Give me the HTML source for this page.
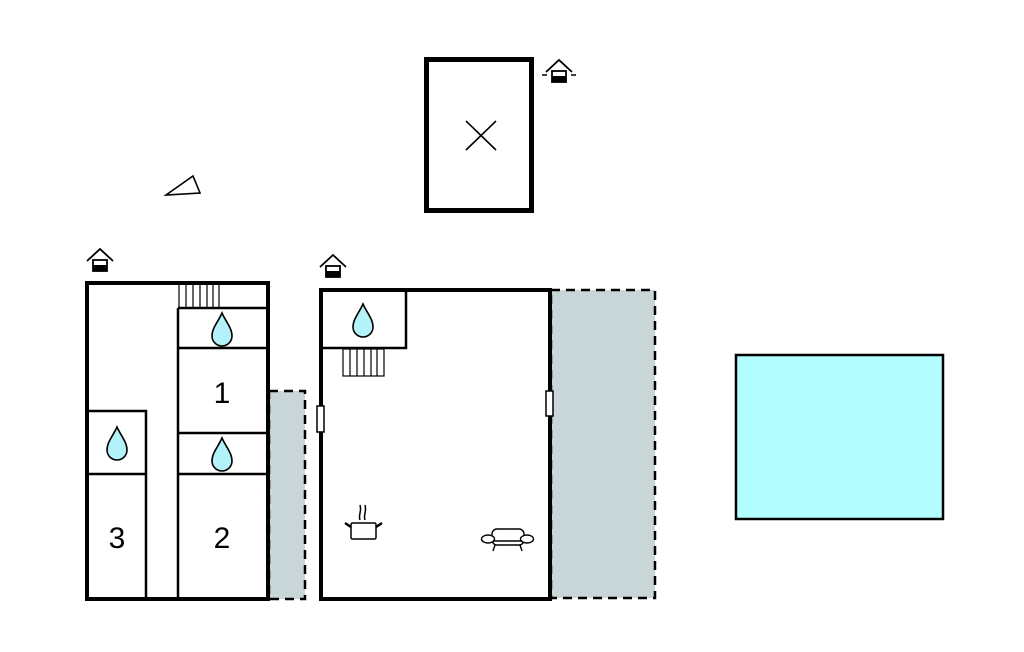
<!DOCTYPE html>
<html><head><meta charset="utf-8"><style>
html,body{margin:0;padding:0;background:#fff;width:1024px;height:652px;overflow:hidden}
svg{display:block}
</style></head><body>
<svg width="1024" height="652" viewBox="0 0 1024 652" xmlns="http://www.w3.org/2000/svg">
<defs>
<g id="drop"><path d="M0,-17 C4,-8 10,-2 10,6 A10,10 0 0 1 -10,6 C-10,-2 -4,-8 0,-17 Z" fill="#b3f2f8" stroke="#000" stroke-width="1.6"/></g>
<g id="house" fill="none" stroke="#000" stroke-width="1.8">
<path d="M-13,2 L0,-10 L13,2"/><rect x="-7" y="1" width="14" height="11" fill="#fff"/><rect x="-7" y="6" width="14" height="6" fill="#000" stroke="none"/>
</g>
</defs>

<rect x="426.5" y="59.5" width="105" height="151" fill="#fff" stroke="#000" stroke-width="5"/>
<path d="M466,121 L496,150 M496,121 L466,150" stroke="#000" stroke-width="1.6"/>
<g transform="translate(559,70)"><use href="#house"/><path d="M-17,5 h5 M12,5 h5" stroke="#000" stroke-width="1.6"/></g>

<path d="M166,195 L193,176 L200,193 Z" fill="none" stroke="#000" stroke-width="1.6"/>

<rect x="269" y="391" width="36" height="208" fill="#c9d6d8" stroke="#000" stroke-width="2.5" stroke-dasharray="9,6"/>
<g transform="translate(100,259)"><use href="#house"/></g>
<rect x="87" y="283" width="181" height="316" fill="#fff" stroke="#000" stroke-width="4"/>
<g stroke="#000" stroke-width="2.5" fill="none">
<path d="M178,308 V599"/>
<path d="M178,308 H267 M178,348 H267 M178,433 H267 M178,474 H267"/>
<path d="M88,411 H146 V599 M88,474 H146"/>
</g>
<g stroke="#000" stroke-width="1.2" fill="none">
<path d="M179,285 V308 M219,285 V308 M186,285 V308 M193,285 V308 M200,285 V308 M207,285 V308 M213,285 V308"/>
</g>
<use href="#drop" x="222" y="330"/>
<use href="#drop" x="117" y="444"/>
<use href="#drop" x="222" y="455"/>
<g font-family="Liberation Sans, sans-serif" font-size="30" text-anchor="middle" fill="#000">
<text x="222" y="403">1</text><text x="222" y="548">2</text><text x="117" y="548">3</text>
</g>

<rect x="551" y="290" width="104" height="308" fill="#c9d6d8" stroke="#000" stroke-width="2.5" stroke-dasharray="9,6"/>
<g transform="translate(333,265)"><use href="#house"/></g>
<rect x="321" y="290" width="229" height="309" fill="#fff" stroke="#000" stroke-width="4"/>
<path d="M321,348 H406 V290" stroke="#000" stroke-width="2.5" fill="none"/>
<use href="#drop" x="363" y="321"/>
<rect x="343" y="349" width="41" height="27" fill="#fff" stroke="#000" stroke-width="1.2"/>
<path d="M350,349 V376 M357,349 V376 M364,349 V376 M371,349 V376 M377,349 V376" stroke="#000" stroke-width="1.2"/>
<rect x="317" y="406" width="7" height="26" fill="#fff" stroke="#000" stroke-width="1.5"/>
<rect x="546" y="391" width="7" height="25" fill="#fff" stroke="#000" stroke-width="1.5"/>

<g stroke="#000" stroke-width="1.5" fill="none">
<rect x="351" y="523" width="25" height="16" rx="1.5" fill="#fff"/>
<path d="M351,527 L345,523 M376,527 L382,523" stroke-width="2.5"/>
<path d="M360,520 C358,515 362,512 360,505 M365,520 C363,515 367,512 365,505"/>
</g>
<g stroke="#000" stroke-width="1.4" fill="#fff">
<rect x="492" y="529" width="32" height="16" rx="5"/>
<path d="M492,541 H524"/>
<ellipse cx="488" cy="539" rx="6.5" ry="4"/>
<ellipse cx="527" cy="539" rx="6.5" ry="4"/>
<path d="M495,545 L493,551 M520,545 L522,551" fill="none"/>
</g>

<rect x="736" y="355" width="207" height="164" fill="#b3ffff" stroke="#000" stroke-width="2.5"/>
</svg>
</body></html>
